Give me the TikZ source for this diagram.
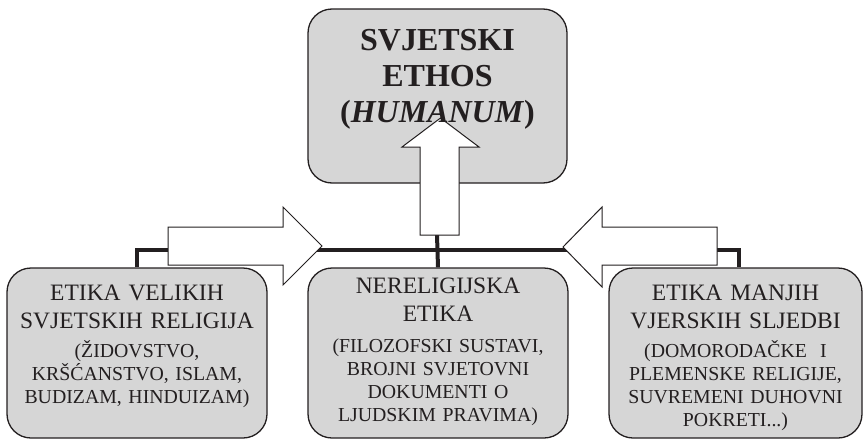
\documentclass[tikz,border=0pt]{standalone}
\usepackage{fontspec}
\setmainfont{Liberation Serif}
\definecolor{boxgray}{RGB}{214,214,214}
\definecolor{ink}{RGB}{35,31,32}
\tikzset{
  okvir/.style={draw=ink, line width=1.3pt, fill=boxgray, rounded corners=24pt,
    minimum width=260pt, minimum height=170pt, inner sep=0pt},
  naslov/.style={anchor=base, text=ink, align=center, text width=250pt, inner sep=0pt,
    font=\fontsize{23.5}{28.5}\selectfont},
  opis/.style={anchor=base, text=ink, align=center, text width=250pt, inner sep=0pt,
    font=\fontsize{19.8}{23}\selectfont},
  veza/.style={draw=ink, line width=4pt},
  strelica/.style={draw=ink, line width=1pt, fill=white, line join=miter}
}
\begin{document}
\begin{tikzpicture}[x=1pt, y=-1pt]
    \useasboundingbox (0, 0) rectangle (864, 439);

    % okviri
    \node[okvir, minimum width=259pt, minimum height=174pt] (ethos) at (437.5, 96) {};
    \node[okvir] (velike) at (137, 353) {};
    \node[okvir] (nerelig) at (438, 353) {};
    \node[okvir, minimum width=253pt] (manje) at (735.5, 353) {};

    % veze
    \coordinate (spoj) at (437, 250);
    \coordinate (gore) at (437, 235);
    \draw[veza] (velike.north) |- (spoj) -| ([xshift=3.5pt]manje.north);
    \draw[veza] (nerelig.north) -- (gore);

    % strelice
    \draw[strelica] (168, 227) -- (283, 227) -- (283, 207) -- (322, 246)
        -- (283, 285) -- (283, 265) -- (168, 265) -- cycle;
    \draw[strelica] (717, 227) -- (602, 227) -- (602, 207) -- (563, 247)
        -- (602, 287) -- (602, 265) -- (717, 265) -- cycle;
    \draw[strelica] (420, 235) -- (420, 147) -- (402, 147) -- (440.5, 118)
        -- (479, 147) -- (459, 147) -- (459, 235) -- cycle;

    % tekst
    \node[naslov, font=\bfseries\fontsize{32}{36}\selectfont] (ethosT) at (437.5, 50)
        {SVJETSKI\\ETHOS\\(\textit{HUMANUM})};
    \node[naslov] (velikeT) at (137, 300) {ETIKA VELIKIH\\SVJETSKIH RELIGIJA};
    \node[opis] (velikeS) at (137, 357) {(ŽIDOVSTVO,\\KRŠĆANSTVO, ISLAM,\\BUDIZAM, HINDUIZAM)};
    \node[naslov] (nereligT) at (438, 293) {NERELIGIJSKA\\ETIKA};
    \node[opis] (nereligS) at (438, 352) {(FILOZOFSKI SUSTAVI,\\BROJNI SVJETOVNI\\DOKUMENTI O\\LJUDSKIM PRAVIMA)};
    \node[naslov] (manjeT) at (735.5, 300) {ETIKA MANJIH\\VJERSKIH SLJEDBI};
    \node[opis] (manjeS) at (735.5, 357) {(DOMORODAČKE\ \ I\\PLEMENSKE RELIGIJE,\\SUVREMENI DUHOVNI\\POKRETI...)};
\end{tikzpicture}
\end{document}
